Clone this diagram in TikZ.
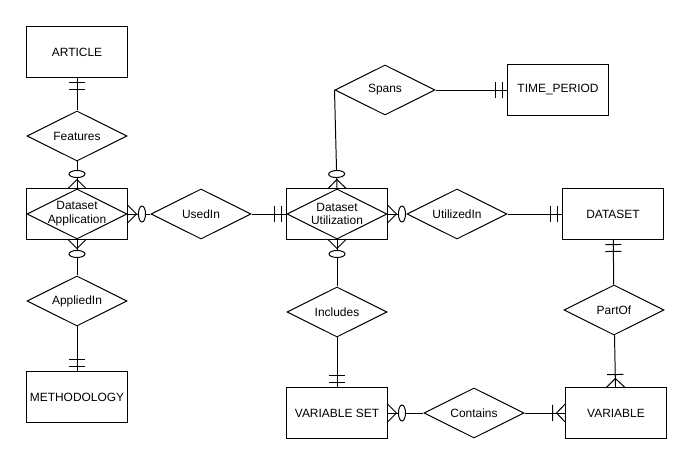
\documentclass[tikz,border=0pt]{standalone}
\usepackage{fontspec}
\setmainfont{Liberation Sans}
\usetikzlibrary{shapes.geometric}

% ER end markers (tip sits on the entity border)
\pgfdeclarearrow{
  name = ERone,
  setup code = {
    \pgfarrowssettipend{0pt}
    \pgfarrowssetlineend{0pt}
    \pgfarrowssetbackend{-9pt}
    \pgfarrowsupperhullpoint{-9pt}{6pt}
    \pgfarrowsupperhullpoint{0pt}{6pt}
  },
  drawing code = {
    \pgfpathmoveto{\pgfqpoint{-3.6pt}{-5.7pt}}
    \pgfpathlineto{\pgfqpoint{-3.6pt}{5.7pt}}
    \pgfpathmoveto{\pgfqpoint{-8.5pt}{-5.7pt}}
    \pgfpathlineto{\pgfqpoint{-8.5pt}{5.7pt}}
    \pgfusepathqstroke
  }
}
\pgfdeclarearrow{
  name = ERzmany,
  setup code = {
    \pgfarrowssettipend{0pt}
    \pgfarrowssetlineend{0pt}
    \pgfarrowssetbackend{-13pt}
    \pgfarrowsupperhullpoint{-13pt}{6.5pt}
    \pgfarrowsupperhullpoint{0pt}{6.5pt}
  },
  drawing code = {
    \pgfpathellipse{\pgfqpoint{-10.3pt}{0pt}}{\pgfqpoint{2.5pt}{0pt}}{\pgfqpoint{0pt}{5.7pt}}
    \pgfsetfillcolor{white}
    \pgfusepathqfillstroke
    \pgfpathmoveto{\pgfqpoint{0pt}{6.4pt}}
    \pgfpathlineto{\pgfqpoint{-6.4pt}{0pt}}
    \pgfpathlineto{\pgfqpoint{0pt}{-6.4pt}}
    \pgfusepathqstroke
  }
}
\pgfdeclarearrow{
  name = ERomany,
  setup code = {
    \pgfarrowssettipend{0pt}
    \pgfarrowssetlineend{0pt}
    \pgfarrowssetbackend{-10pt}
    \pgfarrowsupperhullpoint{-10pt}{6.6pt}
    \pgfarrowsupperhullpoint{0pt}{6.6pt}
  },
  drawing code = {
    \pgfpathmoveto{\pgfqpoint{-9.2pt}{-5.7pt}}
    \pgfpathlineto{\pgfqpoint{-9.2pt}{5.7pt}}
    \pgfpathmoveto{\pgfqpoint{0pt}{6.6pt}}
    \pgfpathlineto{\pgfqpoint{-6.4pt}{0pt}}
    \pgfpathlineto{\pgfqpoint{0pt}{-6.6pt}}
    \pgfusepathqstroke
  }
}

\begin{document}
\begin{tikzpicture}[
        x=0.025cm, y=-0.025cm,
        every node/.style={font=\fontsize{8.5}{9.8}\selectfont},
        entity/.style={rectangle, draw, line width=0.7pt, minimum width=2.5cm, minimum height=1.25cm, align=center, inner sep=1pt},
        relation/.style={diamond, draw, line width=0.7pt, minimum width=2.5cm, minimum height=1.25cm, inner sep=0pt, aspect=2},
        link/.style={line width=0.7pt}
    ]

    \useasboundingbox (0,0) rectangle (692,464);

    % Entities
    \node[entity] (article) at (77,52) {ARTICLE};
    \node[entity] (method) at (77,397) {METHODOLOGY};
    \node[entity] (timeperiod) at (558,90) {TIME\_PERIOD};
    \node[entity] (dataset) at (613,214) {DATASET};
    \node[entity] (varset) at (337,413) {VARIABLE SET};
    \node[entity] (variable) at (616,413) {VARIABLE};

    % Associative entities (box + diamond)
    \node[relation] (dsapp_d) at (77,214) {};
    \node[entity] (dsapp) at (77,214) {Dataset\\Application};
    \node[relation] (dsutil_d) at (337,214) {};
    \node[entity] (dsutil) at (337,214) {Dataset\\Utilization};

    % Relationships
    \node[relation] (features) at (77,136) {Features};
    \node[relation] (appliedin) at (77,301) {AppliedIn};
    \node[relation] (usedin) at (201,214) {UsedIn};
    \node[relation] (spans) at (385,90) {Spans};
    \node[relation] (utilizedin) at (457,214) {UtilizedIn};
    \node[relation] (includes) at (337,312) {Includes};
    \node[relation] (partof) at (614,310) {PartOf};
    \node[relation] (contains) at (474,413) {Contains};

    % === CONNECTORS ===
    \draw[link, -ERone] (features) -- (article);
    \draw[link, -ERzmany] (features) -- (dsapp);

    \draw[link, -ERzmany] (appliedin) -- (dsapp);
    \draw[link, -ERone] (appliedin) -- (method);

    \draw[link, -ERzmany] (usedin) -- (dsapp);
    \draw[link, -ERone] (usedin) -- (dsutil);

    \draw[link, -ERzmany] (spans.west) -- (dsutil.north);
    \draw[link, -ERone] (spans) -- (timeperiod);

    \draw[link, -ERzmany] (utilizedin) -- (dsutil);
    \draw[link, -ERone] (utilizedin) -- (dataset);

    \draw[link, -ERzmany] (includes) -- (dsutil);
    \draw[link, -ERone] (includes) -- (varset);

    \draw[link, -ERone] (partof) -- (dataset);
    \draw[link, -ERomany] (partof) -- (variable);

    \draw[link, -ERzmany] (contains) -- (varset);
    \draw[link, -ERomany] (contains) -- (variable);

\end{tikzpicture}
\end{document}
